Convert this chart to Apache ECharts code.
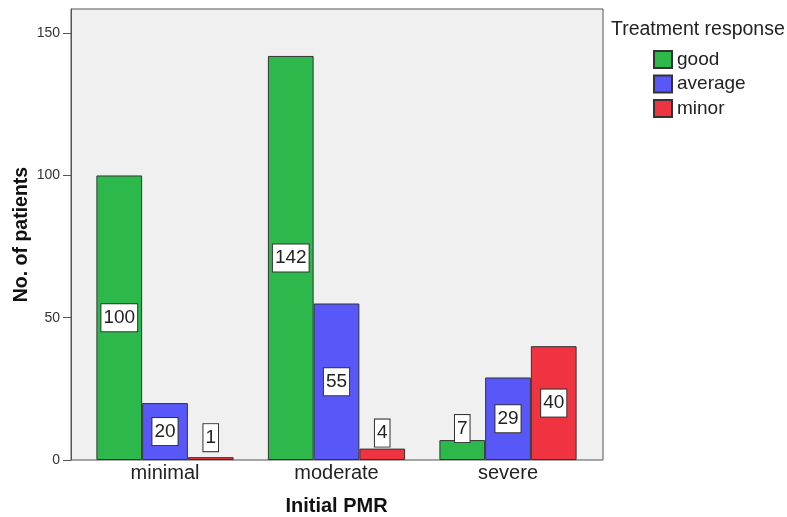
<!DOCTYPE html>
<html>
<head>
<meta charset="utf-8">
<script src="https://cdn.jsdelivr.net/npm/echarts@6/dist/echarts.min.js"></script>
<style>html,body{margin:0;padding:0;background:#fff;}#c{width:787px;height:517px;}</style>
</head>
<body>
<div id="c"></div>
<script>
var categories = ['minimal', 'moderate', 'severe'];
var seriesNames = ['good', 'average', 'minor'];
var good = [100, 142, 7];
var average = [20, 55, 29];
var minor = [1, 4, 40];
var yTicks = [0, 50, 100, 150];
var yMax = 158.5;

var FONT = "'Liberation Sans', Arial, sans-serif";
var colors = ['#2db84b', '#5858f8', '#f03340'];
var values = [good, average, minor];
// label offsets for short bars (placed above bar)
var smallDist = {1: 6, 4: 2, 7: -2};

function makeData(arr) {
  return arr.map(function (v) {
    if (smallDist.hasOwnProperty(v)) {
      return { value: v, label: { position: 'top', distance: smallDist[v] } };
    }
    return { value: v };
  });
}

var chart = echarts.init(document.getElementById('c'), null, { renderer: 'canvas' });
var series = seriesNames.map(function (name, i) {
  return {
    name: name,
    type: 'bar',
    xAxisIndex: 1,
    yAxisIndex: 1,
    barGap: '0%',
    barCategoryGap: '20%',
    itemStyle: { color: colors[i], borderColor: '#333', borderWidth: 1 },
    label: {
      show: true,
      position: 'inside',
      fontFamily: FONT,
      fontSize: 19,
      color: '#222',
      backgroundColor: '#fff',
      borderColor: '#333',
      borderWidth: 1,
      padding: [2, 2, 2, 2],
      lineHeight: 23
    },
    emphasis: { disabled: true },
    data: makeData(values[i])
  };
});

chart.setOption({
  animation: false,
  textStyle: { fontFamily: FONT },
  grid: [
    { left: 71, top: 9, width: 532, height: 451, show: true, backgroundColor: '#f0f0f0', borderColor: '#555', borderWidth: 1, outerBoundsMode: 'none', containLabel: false },
    { left: 79.25, top: 9, width: 514.5, height: 451, outerBoundsMode: 'none', containLabel: false }
  ],
  xAxis: [
    { type: 'value', gridIndex: 0, show: false, min: 0, max: 1 },
    {
      type: 'category', gridIndex: 1, data: categories,
      axisLine: { show: false }, axisTick: { show: false },
      axisLabel: { fontFamily: FONT, fontSize: 20, color: '#222', margin: 3 },
      name: 'Initial PMR', nameLocation: 'middle', nameGap: 36,
      nameTextStyle: { fontFamily: FONT, fontSize: 20, fontWeight: 'bold', color: '#111' }
    }
  ],
  yAxis: [
    {
      type: 'value', gridIndex: 0, min: 0, max: yMax, interval: 50,
      axisLine: { show: true, lineStyle: { color: '#555', width: 1 } },
      axisTick: { show: true, length: 8, lineStyle: { color: '#555' } },
      splitLine: { show: false },
      axisLabel: {
        fontFamily: FONT, fontSize: 14, color: '#333', margin: 11,
        showMaxLabel: false,
        formatter: function (v) { return yTicks.indexOf(v) >= 0 ? String(v) : ''; }
      }
    },
    { type: 'value', gridIndex: 1, min: 0, max: yMax, show: false }
  ],
  legend: {
    orient: 'vertical', left: 653, top: 48.5, padding: 0,
    itemWidth: 18, itemHeight: 17, itemGap: 2.5, icon: 'rect',
    selectedMode: false,
    textStyle: { fontFamily: FONT, fontSize: 19, color: '#222', padding: [3, 0, 0, 0], lineHeight: 19 },
    data: seriesNames
  },
  graphic: [
    { type: 'text', left: 611, top: 20, style: { text: 'Treatment response', font: '19.5px ' + FONT, fill: '#222' } },
    { type: 'text', x: 22, y: 234.5, rotation: Math.PI / 2,
      style: { text: 'No. of patients', font: 'bold 19.5px ' + FONT, fill: '#111', align: 'center', verticalAlign: 'middle' } }
  ],
  series: series
});
</script>
</body>
</html>
